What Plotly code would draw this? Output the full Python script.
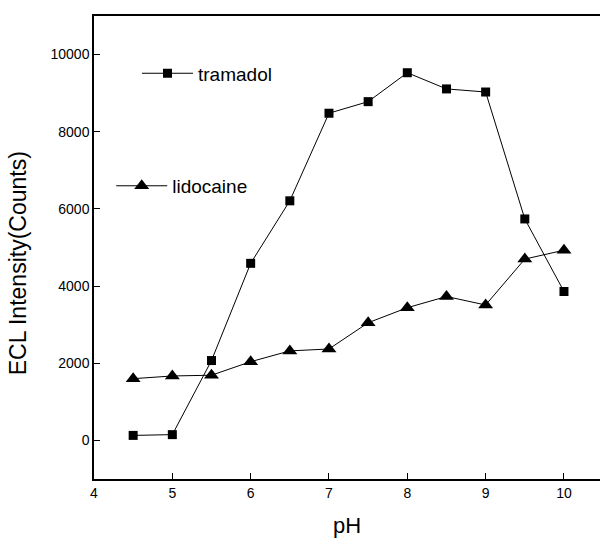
import plotly.graph_objects as go

ph = [4.5, 5.0, 5.5, 6.0, 6.5, 7.0, 7.5, 8.0, 8.5, 9.0, 9.5, 10.0]
tramadol = [130, 150, 2070, 4590, 6210, 8480, 8780, 9530, 9110, 9030, 5740, 3860]
lidocaine = [1600, 1670, 1690, 2040, 2320, 2370, 3050, 3440, 3730, 3510, 4700, 4930]

x_ticks = [4, 5, 6, 7, 8, 9, 10]
y_ticks = [0, 2000, 4000, 6000, 8000, 10000]

FONT = "Liberation Sans, Arial, sans-serif"

fig = go.Figure()
fig.add_trace(go.Scatter(
    x=ph, y=tramadol, name="tramadol", mode="lines+markers",
    line=dict(color="black", width=1),
    marker=dict(symbol="square", size=9, color="black"),
    legend="legend",
))
fig.add_trace(go.Scatter(
    x=ph, y=lidocaine, name="lidocaine", mode="lines+markers",
    line=dict(color="black", width=1),
    marker=dict(symbol="triangle-up", size=13, color="black"),
    legend="legend2",
))

fig.update_layout(
    width=600, height=538,
    margin=dict(l=94, r=0, t=16, b=57),
    paper_bgcolor="white", plot_bgcolor="white",
    font=dict(family=FONT, color="black", size=14),
    showlegend=True,
    legend=dict(x=0.085, y=0.876, xanchor="left", yanchor="middle",
                bgcolor="rgba(0,0,0,0)", font=dict(size=19, family=FONT),
                itemwidth=51),
    legend2=dict(x=0.034, y=0.633, xanchor="left", yanchor="middle",
                 bgcolor="rgba(0,0,0,0)", font=dict(size=19, family=FONT),
                 itemwidth=51),
    xaxis=dict(
        range=[4, 10.46], tickvals=x_ticks, ticktext=[str(v) for v in x_ticks],
        ticks="inside", ticklen=6, tickwidth=1.2, tickcolor="black",
        showline=True, linecolor="black", linewidth=1.5, mirror=True,
        showgrid=False, zeroline=False,
        tickfont=dict(size=14, family=FONT),
        title=dict(text="pH", font=dict(size=22, family=FONT), standoff=22),
    ),
    yaxis=dict(
        range=[-1000, 11000], tickvals=y_ticks, ticktext=[str(v) for v in y_ticks],
        ticks="inside", ticklen=6, tickwidth=1.2, tickcolor="black",
        showline=True, linecolor="black", linewidth=1.5,
        showgrid=False, zeroline=False,
        tickfont=dict(size=14, family=FONT),
    ),
    annotations=[dict(
        text="ECL Intensity(Counts)", textangle=-90,
        xref="paper", yref="paper", x=-0.151, y=0.465,
        xanchor="center", yanchor="middle", showarrow=False,
        font=dict(size=23, family=FONT),
    )],
)

fig.write_html("out.html",
               config={"displayModeBar": False},
               post_script="document.body.style.margin='0';document.body.style.overflow='hidden';")
